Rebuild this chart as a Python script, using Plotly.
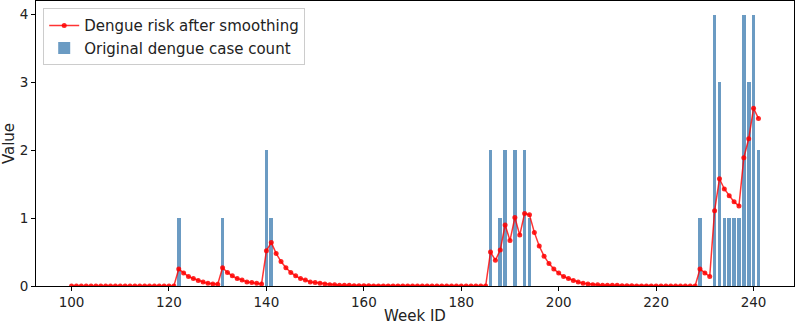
import plotly.graph_objects as go

# Smoothed dengue risk, one value per week 100..241
weeks = list(range(100, 242))
risk = (
    [0.0] * 22 +                                   # 100-121
    [0.25, 0.19, 0.14, 0.11, 0.08, 0.06, 0.04, 0.03, 0.025,   # 122-130
     0.27, 0.20, 0.15, 0.11, 0.09, 0.06, 0.05, 0.04, 0.03,    # 131-139
     0.52, 0.64, 0.48, 0.36, 0.27, 0.20, 0.15, 0.11, 0.09,    # 140-148
     0.06, 0.05, 0.04, 0.03, 0.02, 0.02, 0.01, 0.01, 0.01,    # 149-157
     0.005, 0.004, 0.003, 0.002, 0.0015, 0.001, 0.001] +      # 158-164
    [0.0] * 21 +                                   # 165-185
    [0.50, 0.38, 0.53, 0.90, 0.67, 1.01, 0.75, 1.07, 1.05,    # 186-194
     0.79, 0.59, 0.44, 0.33, 0.25, 0.19, 0.14, 0.11, 0.08,    # 195-203
     0.06, 0.04, 0.03, 0.02, 0.02, 0.01, 0.01, 0.01, 0.01,    # 204-212
     0.004, 0.003, 0.0025] +                                  # 213-215
    [0.0] * 13 +                                   # 216-228
    [0.25, 0.19, 0.14, 1.11, 1.58, 1.43, 1.33, 1.24, 1.18,    # 229-237
     1.89, 2.17, 2.62, 2.47]                                  # 238-241
)

# Original case counts (weeks with non-zero counts)
case_weeks = [122, 131, 140, 141, 186, 188, 189, 191, 193, 194,
              229, 232, 233, 234, 235, 236, 237, 238, 239, 240, 241]
case_counts = [1, 1, 2, 1, 2, 1, 2, 2, 2, 1,
               1, 4, 3, 1, 1, 1, 1, 4, 3, 4, 2]

x_ticks = [100, 120, 140, 160, 180, 200, 220, 240]
y_ticks = [0, 1, 2, 3, 4]

FONT = "DejaVu Sans"
FS_TICK = 13.5
FS_LABEL = 15

fig = go.Figure()
fig.add_trace(go.Bar(
    x=case_weeks, y=case_counts, width=0.75,
    marker=dict(color="rgba(70,130,180,0.8)", line=dict(width=0)),
    name="Original dengue case count", legendrank=2,
))
fig.add_trace(go.Scatter(
    x=weeks, y=risk, mode="lines+markers",
    line=dict(color="rgba(255,0,0,0.8)", width=1.5),
    marker=dict(color="rgba(255,0,0,0.85)", size=5),
    name="Dengue risk after smoothing", legendrank=1,
))

axis_common = dict(
    showline=True, linecolor="black", linewidth=1, mirror=True,
    ticks="outside", ticklen=4, tickwidth=1, tickcolor="black",
    showgrid=False, zeroline=False, automargin=False,
    tickfont=dict(family=FONT, size=FS_TICK, color="#222"),
)

fig.update_layout(
    width=796, height=325,
    margin=dict(l=36, r=2, t=1, b=39, autoexpand=False),
    paper_bgcolor="white", plot_bgcolor="white",
    font=dict(family=FONT, size=FS_LABEL, color="#222"),
    xaxis=dict(range=[92.7, 248.3], tickvals=x_ticks,
               title=dict(text="Week ID", font=dict(family=FONT, size=FS_LABEL), standoff=3),
               **axis_common),
    yaxis=dict(range=[0, 4.2], tickvals=y_ticks,
               title=dict(text="Value", font=dict(family=FONT, size=FS_LABEL), standoff=5),
               **axis_common),
    legend=dict(x=0.0095, y=0.975, xanchor="left", yanchor="top",
                bgcolor="rgba(255,255,255,0.8)", bordercolor="#cccccc", borderwidth=1,
                font=dict(family=FONT, size=FS_LABEL), itemwidth=30,
                tracegroupgap=0),
    showlegend=True,
    bargap=0,
)

fig.write_html("out.html",
               config={"displayModeBar": False},
               post_script="document.body.style.margin='0';document.body.style.overflow='hidden';")
